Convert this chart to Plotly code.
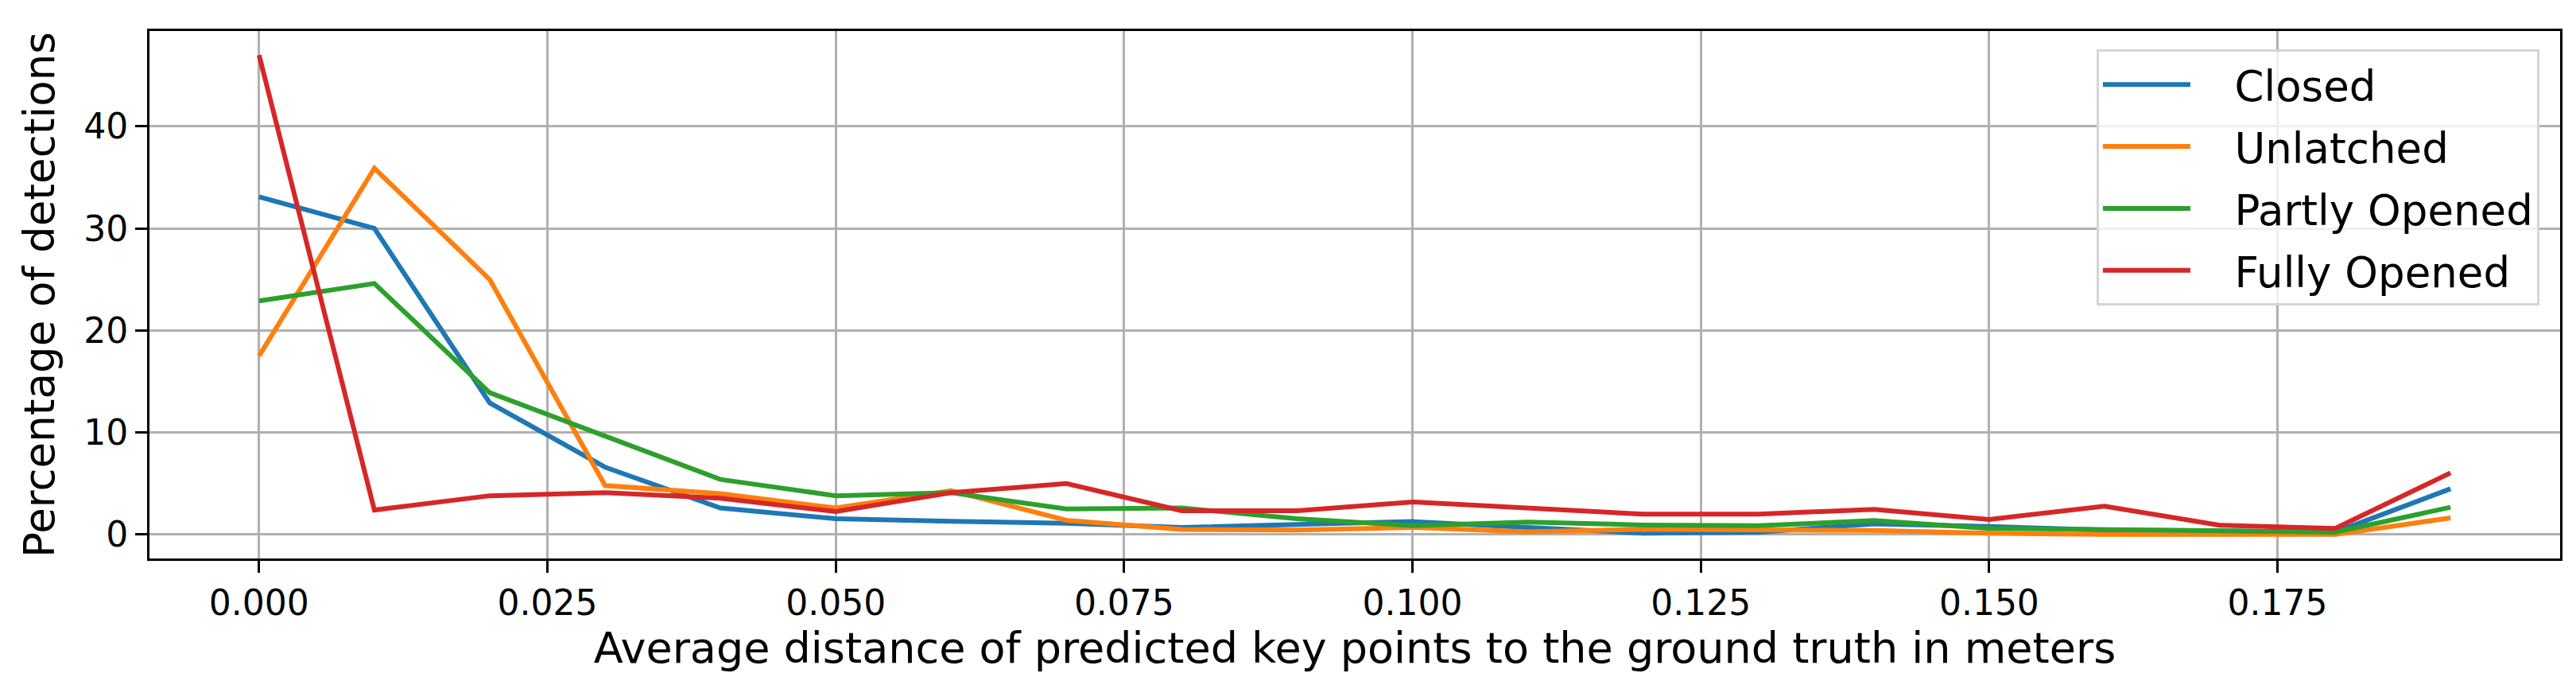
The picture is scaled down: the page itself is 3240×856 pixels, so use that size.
import plotly.graph_objects as go

# distance bins (m)
distance = [0.00, 0.01, 0.02, 0.03, 0.04, 0.05, 0.06, 0.07, 0.08, 0.09,
            0.10, 0.11, 0.12, 0.13, 0.14, 0.15, 0.16, 0.17, 0.18, 0.19]

closed = [33.1, 30.0, 12.9, 6.6, 2.6, 1.55, 1.3, 1.1, 0.7, 1.0,
          1.27, 0.7, 0.13, 0.23, 1.04, 0.78, 0.44, 0.36, 0.23, 4.48]
unlatched = [17.5, 35.9, 25.0, 4.8, 4.0, 2.6, 4.3, 1.4, 0.5, 0.44,
             0.7, 0.26, 0.52, 0.47, 0.39, 0.13, 0.0, 0.0, 0.0, 1.63]
partly_opened = [22.9, 24.6, 13.9, 9.7, 5.4, 3.8, 4.1, 2.5, 2.6, 1.55,
                 0.86, 1.22, 0.93, 0.86, 1.37, 0.6, 0.47, 0.44, 0.23, 2.67]
fully_opened = [47.0, 2.4, 3.8, 4.1, 3.55, 2.25, 4.1, 5.0, 2.33, 2.33,
                3.19, 2.6, 2.0, 2.0, 2.46, 1.48, 2.77, 0.91, 0.6, 6.04]

series = [
    ("Closed", closed, "#1f77b4"),
    ("Unlatched", unlatched, "#ff7f0e"),
    ("Partly Opened", partly_opened, "#2ca02c"),
    ("Fully Opened", fully_opened, "#d62728"),
]

x_ticks = [0.0, 0.025, 0.05, 0.075, 0.1, 0.125, 0.15, 0.175]
y_ticks = [0, 10, 20, 30, 40]

# small gap between the legend line sample and its label
pad = "\u00a0\u00a0\u00a0"

fig = go.Figure()
for name, values, color in series:
    fig.add_trace(
        go.Scatter(
            x=distance,
            y=values,
            mode="lines",
            name=pad + name,
            legendgroup=name,  # one group per trace so tracegroupgap spaces the rows
            line=dict(color=color, width=6),
        )
    )

axis_style = dict(
    showline=True,
    mirror=True,
    linecolor="black",
    linewidth=3,
    ticks="outside",
    ticklen=15,
    tickwidth=3,
    tickcolor="black",
    showgrid=True,
    gridcolor="#b0b0b0",
    gridwidth=3,
    zeroline=False,
    tickfont=dict(size=44, color="black"),
)

fig.update_layout(
    width=3240,
    height=856,
    margin=dict(l=180, r=28, t=31, b=162),
    paper_bgcolor="white",
    plot_bgcolor="white",
    font=dict(family="DejaVu Sans", color="black"),
    xaxis=dict(
        axis_style,
        range=[-0.0095, 0.1995],
        tickvals=x_ticks,
        tickformat=".3f",
        title=dict(
            text="Average distance of predicted key points to the ground truth in meters",
            font=dict(size=54),
            standoff=12,
        ),
    ),
    yaxis=dict(
        axis_style,
        range=[-2.35, 49.35],
        tickvals=y_ticks,
        title=dict(text="Percentage of detections", font=dict(size=53), standoff=20),
    ),
    legend=dict(
        x=0.9914,
        xanchor="right",
        y=0.965,
        yanchor="top",
        font=dict(size=53),
        bgcolor="rgba(255,255,255,0.8)",
        bordercolor="#d5d5d5",
        borderwidth=3,
        itemwidth=110,
        traceorder="grouped",
        tracegroupgap=6,
    ),
)

fig.write_html("out.html")
